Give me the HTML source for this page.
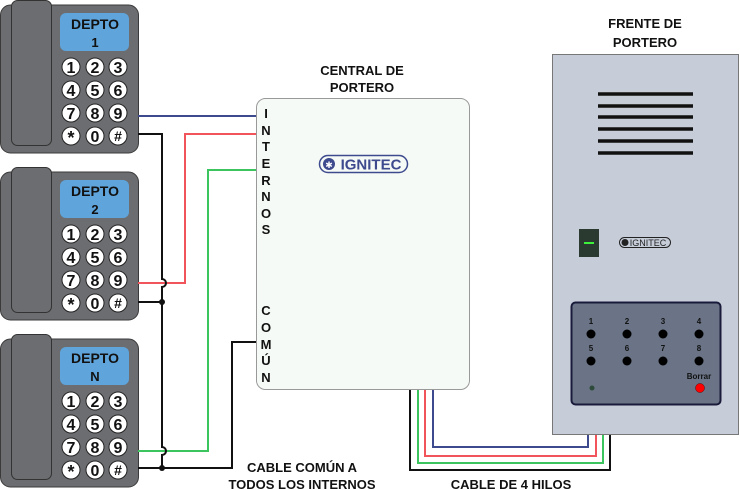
<!DOCTYPE html>
<html><head><meta charset="utf-8"><style>
html,body{margin:0;padding:0;background:#fff;}
svg{display:block;font-family:"Liberation Sans",sans-serif;}
</style></head><body>
<svg width="740" height="489" viewBox="0 0 740 489" xmlns="http://www.w3.org/2000/svg">
<defs>
<g id="phone">
  <rect x="0.5" y="5" width="138" height="148" rx="10" fill="#6c6d70" stroke="#3a3a3a"/>
  <rect x="11.5" y="0.5" width="40" height="145" rx="6" fill="#6c6d70" stroke="#333"/>
  <rect x="60" y="13" width="69" height="38" rx="6" fill="#5fa4db"/>
  <g fill="#fff" stroke="#222" stroke-width="1">
    <circle cx="71" cy="67" r="9"/><circle cx="95" cy="67" r="9"/><circle cx="118" cy="67" r="9"/>
    <circle cx="71" cy="90" r="9"/><circle cx="95" cy="90" r="9"/><circle cx="118" cy="90" r="9"/>
    <circle cx="71" cy="113" r="9"/><circle cx="95" cy="113" r="9"/><circle cx="118" cy="113" r="9"/>
    <circle cx="71" cy="136" r="9"/><circle cx="95" cy="136" r="9"/><circle cx="118" cy="136" r="9"/>
  </g>
  <g font-size="16" font-weight="bold" fill="#111" text-anchor="middle">
    <text x="71" y="73">1</text><text x="95" y="73">2</text><text x="118" y="73">3</text>
    <text x="71" y="96">4</text><text x="95" y="96">5</text><text x="118" y="96">6</text>
    <text x="71" y="119">7</text><text x="95" y="119">8</text><text x="118" y="119">9</text>
    <text x="71" y="144" font-size="18">*</text><text x="95" y="142">0</text><text x="118" y="141" font-size="14">#</text>
  </g>
  <text x="95" y="29" font-size="14" font-weight="bold" text-anchor="middle" fill="#111">DEPTO</text>
</g>
</defs>

<use href="#phone" x="0" y="0"/>
<text x="95" y="47" font-size="13" font-weight="bold" text-anchor="middle" fill="#111">1</text>
<use href="#phone" x="0" y="167"/>
<text x="95" y="214" font-size="13" font-weight="bold" text-anchor="middle" fill="#111">2</text>
<use href="#phone" x="0" y="334"/>
<text x="95" y="381" font-size="13" font-weight="bold" text-anchor="middle" fill="#111">N</text>

<g fill="none" stroke-width="2">
  <path d="M138 116 H258" stroke="#3d4a8e"/>
  <path d="M138 283 H185 V134 H258" stroke="#f2545b"/>
  <path d="M138 451 H208 V170 H258" stroke="#3cc45e"/>
  <path d="M138 134 H162 V279 a4 4 0 0 1 0 8 V447 a4 4 0 0 1 0 8 V468" stroke="#111"/>
  <path d="M138 302 H162 M138 468 H232 V342 H258" stroke="#111"/>
</g>
<circle cx="162" cy="302" r="3" fill="#111"/>
<circle cx="162" cy="468" r="3" fill="#111"/>

<text x="362" y="75" font-size="13" font-weight="bold" text-anchor="middle" fill="#111">CENTRAL DE</text>
<text x="362" y="92" font-size="13" font-weight="bold" text-anchor="middle" fill="#111">PORTERO</text>

<g fill="none" stroke-width="2">
  <path d="M433 389 V447 H588 V435" stroke="#3d4a8e"/>
  <path d="M425 389 V456 H596 V435" stroke="#f2545b"/>
  <path d="M418 389 V463 H603 V435" stroke="#3cc45e"/>
  <path d="M410 389 V470 H610 V435" stroke="#111"/>
</g>

<rect x="256.5" y="98.5" width="213" height="291" rx="9" fill="#f6faf6" stroke="#999"/>
<g font-size="13" font-weight="bold" fill="#111" text-anchor="middle">
  <text x="266" y="118">I</text><text x="266" y="135">N</text><text x="266" y="151">T</text>
  <text x="266" y="168">E</text><text x="266" y="185">R</text><text x="266" y="201">N</text>
  <text x="266" y="218">O</text><text x="266" y="234">S</text>
  <text x="266" y="315">C</text><text x="266" y="332">O</text><text x="266" y="349">M</text>
  <text x="266" y="365">Ú</text><text x="266" y="382">N</text>
</g>
<rect x="319.5" y="155.5" width="88" height="17" rx="8.5" fill="none" stroke="#3d4a8e" stroke-width="1.5"/>
<circle cx="329" cy="164" r="6" fill="#3d4a8e"/>
<text x="329" y="168" font-size="9" fill="#fff" text-anchor="middle">✱</text>
<text x="371" y="169.5" font-size="15" font-weight="bold" fill="#3d4a8e" text-anchor="middle">IGNITEC</text>

<text x="645" y="28" font-size="13" font-weight="bold" text-anchor="middle" fill="#111">FRENTE DE</text>
<text x="645" y="47" font-size="13" font-weight="bold" text-anchor="middle" fill="#111">PORTERO</text>
<rect x="552.5" y="54.5" width="186" height="380" fill="#c6ccd8" stroke="#777"/>
<g stroke="#111" stroke-width="3.5">
  <line x1="598" y1="94" x2="693" y2="94"/><line x1="598" y1="106" x2="693" y2="106"/>
  <line x1="598" y1="117" x2="693" y2="117"/><line x1="598" y1="129" x2="693" y2="129"/>
  <line x1="598" y1="141" x2="693" y2="141"/><line x1="598" y1="153" x2="693" y2="153"/>
</g>
<rect x="579" y="229" width="20" height="28" fill="#2a3a30"/>
<rect x="584" y="242" width="10" height="2" fill="#3cf03c"/>
<rect x="619.5" y="237.5" width="51" height="10" rx="5" fill="none" stroke="#222"/>
<circle cx="625" cy="242.5" r="3.5" fill="#222"/>
<text x="648" y="246" font-size="9" fill="#222" text-anchor="middle">IGNITEC</text>
<rect x="571.5" y="302.5" width="149" height="102" rx="4" fill="#6a7486" stroke="#1a1a3a" stroke-width="2"/>
<g font-size="8" font-weight="bold" fill="#111" text-anchor="middle">
  <text x="591" y="324">1</text><text x="627" y="324">2</text><text x="663" y="324">3</text><text x="699" y="324">4</text>
  <text x="591" y="351">5</text><text x="627" y="351">6</text><text x="663" y="351">7</text><text x="699" y="351">8</text>
  <text x="699" y="379">Borrar</text>
</g>
<g fill="#000">
  <circle cx="591" cy="334" r="4.5"/><circle cx="627" cy="334" r="4.5"/><circle cx="663" cy="334" r="4.5"/><circle cx="699" cy="334" r="4.5"/>
  <circle cx="591" cy="361" r="4.5"/><circle cx="627" cy="361" r="4.5"/><circle cx="663" cy="361" r="4.5"/><circle cx="699" cy="361" r="4.5"/>
</g>
<circle cx="592" cy="388" r="2.5" fill="#2e4a3a"/>
<circle cx="700" cy="388" r="4.5" fill="#f00" stroke="#600" stroke-width="0.5"/>

<text x="302" y="472" font-size="13" font-weight="bold" text-anchor="middle" fill="#111">CABLE COMÚN A</text>
<text x="302" y="489" font-size="13" font-weight="bold" text-anchor="middle" fill="#111">TODOS LOS INTERNOS</text>
<text x="511" y="489" font-size="13" font-weight="bold" text-anchor="middle" fill="#111">CABLE DE 4 HILOS</text>
</svg>
</body></html>
